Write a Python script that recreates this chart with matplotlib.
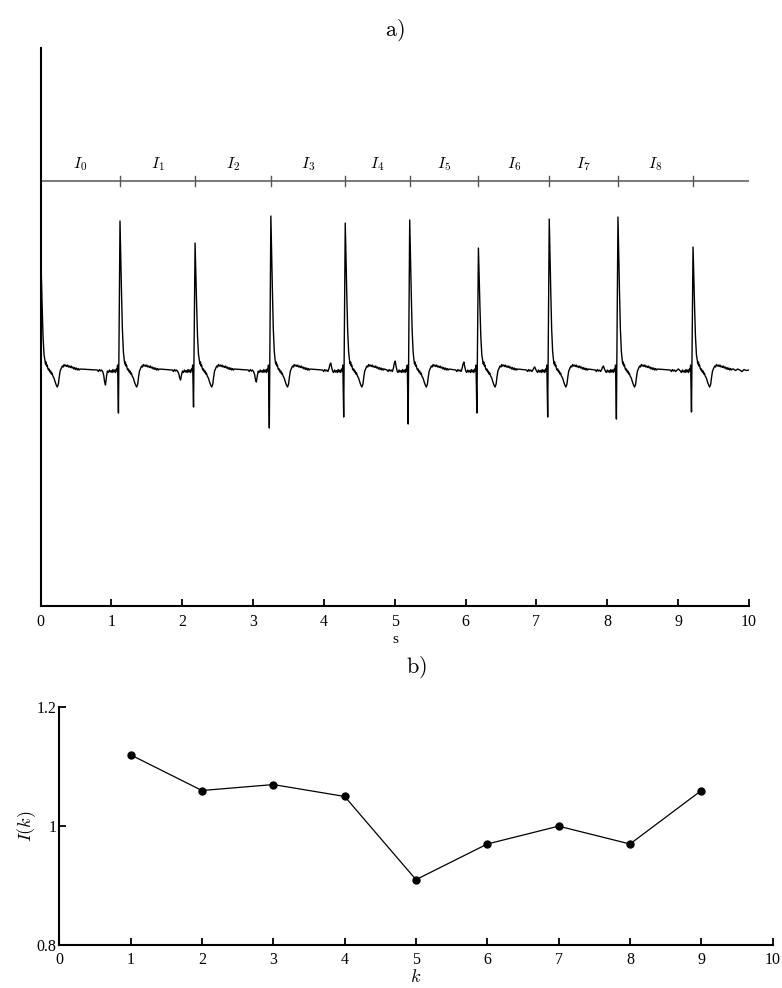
import numpy as np
import matplotlib
matplotlib.use("Agg")
import matplotlib.pyplot as plt

plt.rcParams["mathtext.fontset"] = "cm"
plt.rcParams["font.family"] = ["Liberation Serif", "DejaVu Serif"]

# ---- interval lengths I(k), k = 1..9 (seconds) ----
k_vals = [1, 2, 3, 4, 5, 6, 7, 8, 9]
intervals = [1.12, 1.06, 1.07, 1.05, 0.91, 0.97, 1.00, 0.97, 1.06]

# R-peak times: first beat at the start of the record, then cumulative intervals
r_times = [0.0] + list(np.cumsum(intervals))

# per-beat R amplitude, Q depth and small pre-R deflection (beats 1..9)
r_amp = [1.18, 1.47, 1.25, 1.52, 1.45, 1.48, 1.20, 1.49, 1.51, 1.21]
q_depth = [-0.45, -0.39, -0.60, -0.49, -0.56, -0.45, -0.49, -0.51, -0.44]
pre_wave = [-0.14, -0.09, -0.11, 0.08, 0.10, 0.09, 0.04, 0.05, 0.02]

# beat shape after the R peak: fast fall (fraction of R amplitude)
fall_t = [0.012, 0.022, 0.034, 0.048]
fall_ratio = [0.72, 0.50, 0.26, 0.11]
# then recovery, T trough and flat segment (absolute values)
post_t = [0.060, 0.068, 0.076, 0.084, 0.092, 0.100, 0.110, 0.120, 0.130, 0.141,
          0.150, 0.160, 0.172, 0.188, 0.205, 0.220, 0.235, 0.250, 0.262, 0.275,
          0.292, 0.305, 0.318, 0.330, 0.342, 0.355, 0.368, 0.380, 0.393, 0.405,
          0.418, 0.430, 0.443, 0.455, 0.468, 0.480, 0.493, 0.505, 0.518, 0.530,
          0.542, 0.555]
post_v = [0.08, 0.04, 0.06, 0.02, 0.03, 0.00, -0.02, -0.01, -0.04, -0.03,
          -0.06, -0.05, -0.08, -0.10, -0.14, -0.17, -0.19, -0.16, -0.09, -0.03,
          0.00, 0.02, 0.01, 0.035, 0.02, 0.03, 0.015, 0.03, 0.01, 0.02,
          0.005, 0.02, 0.00, 0.01, -0.01, 0.005, -0.015, 0.00, -0.02, -0.005,
          -0.02, -0.01]
# segment leading into the next beat (relative to next R)
pre_t = [-0.32, -0.305, -0.29, -0.275, -0.26, -0.245, -0.23, -0.218, -0.205,
         -0.192, -0.178, -0.165, -0.15, -0.138, -0.125, -0.112, -0.10, -0.088,
         -0.076, -0.064, -0.052, -0.042, -0.034]
pre_v = [-0.02, -0.035, -0.015, -0.03, -0.02, -0.035, None, None, None,
         None, -0.03, -0.045, -0.02, -0.04, -0.025, -0.045, -0.015, -0.04,
         -0.02, -0.045, -0.01, -0.03, 0.03]
pre_shape = [0, 0, 0, 0, 0, 0, 0.3, 0.75, 1.0,
             0.45, 0, 0, 0, 0, 0, 0, 0, 0,
             0, 0, 0, 0, 0]
q_offset = -0.022

# trace after the last beat up to the end of the record
tail_t = [9.78, 9.81, 9.84, 9.87, 9.90, 9.93, 9.96, 10.0]
tail_v = [-0.01, -0.025, -0.01, -0.02, -0.035, -0.015, -0.025, -0.02]

# assemble the trace
ts, vs = [], []
for i, tr in enumerate(r_times):
    a = r_amp[i]
    if i > 0:
        j = i - 1
        for t, v, s in zip(pre_t, pre_v, pre_shape):
            ts.append(tr + t)
            vs.append(-0.03 + pre_wave[j] * s if v is None else v)
        ts.append(tr + q_offset)
        vs.append(q_depth[j])
    ts.append(tr)
    vs.append(a)
    for t, f in zip(fall_t, fall_ratio):
        ts.append(tr + t)
        vs.append(a * f)
    for t, v in zip(post_t, post_v):
        ts.append(tr + t)
        vs.append(v)
ts += tail_t
vs += tail_v

fig = plt.figure(figsize=(7.82, 9.88), dpi=100)

# ---------------- a) ECG trace ----------------
ax1 = fig.add_axes([0.0520, 0.3869, 0.9058, 0.5642])
ax1.plot(ts, vs, color="black", lw=1.0)
ax1.set_xlim(0, 10)
ax1.set_ylim(-2.377, 3.197)

# interval bar with R-peak marks and labels
bar_y = 1.87
ax1.plot([0, 10], [bar_y, bar_y], color="#6e6e6e", lw=1.3)
for tr in r_times[1:]:
    ax1.plot([tr, tr], [bar_y - 0.05, bar_y + 0.05], color="#555555", lw=1.0)
for n in range(len(intervals)):
    xc = 0.5 * (r_times[n] + r_times[n + 1])
    ax1.text(xc, 2.04, r"$I_{%d}$" % n, ha="center", va="center", fontsize=11.5)

for s in ("top", "right"):
    ax1.spines[s].set_visible(False)
for s in ("left", "bottom"):
    ax1.spines[s].set_linewidth(1.5)
ax1.set_xticks(range(11))
ax1.set_yticks([])
ax1.tick_params(axis="x", direction="in", length=5, width=1.3, labelsize=11.5, pad=6)
ax1.set_xlabel("s", fontsize=11, labelpad=2)
ax1.set_title(r"$\mathrm{a)}$", fontsize=16, pad=9)

# ---------------- b) interval series ----------------
ax2 = fig.add_axes([0.0758, 0.0435, 0.9123, 0.2406])
ax2.plot(k_vals, intervals, color="black", lw=0.9, marker="o", markersize=5)
ax2.set_xlim(0, 10)
ax2.set_ylim(0.8, 1.2)
ax2.set_xticks(range(11))
ax2.set_yticks([0.8, 1.0, 1.2])
ax2.set_yticklabels(["0.8", "1", "1.2"])
for s in ("top", "right"):
    ax2.spines[s].set_visible(False)
for s in ("left", "bottom"):
    ax2.spines[s].set_linewidth(1.5)
ax2.tick_params(direction="in", length=5, width=1.3, labelsize=11.5)
ax2.tick_params(axis="x", pad=5)
ax2.tick_params(axis="y", pad=2)
ax2.set_xlabel(r"$k$", fontsize=13, labelpad=1)
ax2.set_ylabel(r"$I(k)$", fontsize=13, labelpad=-1)
ax2.set_title(r"$\mathrm{b)}$", fontsize=16, pad=25)

fig.savefig("out.png", dpi=100)
